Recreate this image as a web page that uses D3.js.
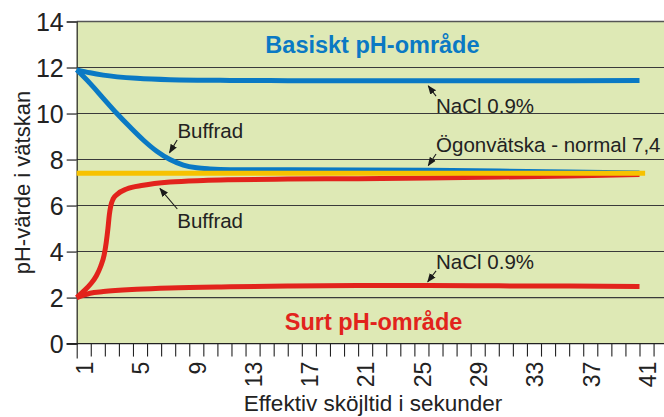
<!DOCTYPE html>
<html>
<head>
<meta charset="utf-8">
<script src="https://cdn.jsdelivr.net/npm/d3@7/dist/d3.min.js"></script>
<style>
  html, body { margin: 0; padding: 0; background: #ffffff; }
  svg { display: block; font-family: "Liberation Sans", Arial, sans-serif; }
</style>
</head>
<body>
<svg id="chart" width="664" height="417"></svg>
<script>
// ---- data (seconds, pH) ----
const blueNaCl = [[1,11.9],[1.95,11.77],[2.89,11.67],[5.26,11.53],[7.63,11.47],[11.9,11.44],[16,11.43],[21,11.42],[26,11.42],[31,11.42],[36,11.43],[41,11.44]];
const blueBuffrad = [[1,11.9],[1.95,11.31],[2.89,10.66],[3.84,10.01],[4.79,9.41],[5.73,8.85],[6.69,8.36],[7.63,8.0],[8.58,7.76],[9.53,7.64],[10.47,7.59],[11.9,7.56],[16,7.56],[21,7.55],[26,7.53],[31,7.5],[36,7.46],[41,7.42]];
const redBuffrad = [[1,2.0],[1.5,2.28],[2,2.6],[2.4,2.95],[2.7,3.35],[2.95,3.85],[3.1,4.4],[3.22,5.0],[3.32,5.6],[3.42,5.98],[3.6,6.3],[3.9,6.5],[4.55,6.72],[5.73,6.88],[7.63,7.02],[10,7.09],[11.9,7.12],[16,7.15],[21,7.17],[26,7.2],[31,7.24],[36,7.29],[41,7.35]];
const redNaCl = [[1,2.0],[1.95,2.19],[2.89,2.26],[5.26,2.36],[7.63,2.42],[11.9,2.47],[16,2.5],[21,2.52],[26,2.52],[31,2.51],[36,2.5],[41,2.48]];
const eyeFluid = [[1,7.4],[41.4,7.4]];

const xTicks = d3.range(1, 43);
const xTickLabels = [1,5,9,13,17,21,25,29,33,37,41];
const yTickValues = [0,2,4,6,8,10,12,14];
const yGridValues = [2,4,6,8,10,12,14];

const xTitle = "Effektiv sköjltid i sekunder";
const yTitle = "pH-värde i vätskan";

// annotations in data coordinates: text position, arrow start, arrow tip
const notes = [
  {text: "Buffrad", tx: 8.16, ty: 8.95, ax1: 8.14, ay1: 8.85, ax2: 7.6, ay2: 8.3},
  {text: "NaCl 0.9%", tx: 26.54, ty: 10.04, ax1: 26.54, ay1: 10.76, ax2: 25.99, ay2: 11.2},
  {text: "Ögonvätska - normal 7,4", tx: 26.54, ty: 8.34, ax1: 26.54, ay1: 8.24, ax2: 25.99, ay2: 7.74},
  {text: "Buffrad", tx: 8.15, ty: 5.04, ax1: 8.15, ay1: 5.85, ax2: 6.92, ay2: 6.74},
  {text: "NaCl 0.9%", tx: 26.54, ty: 3.23, ax1: 26.54, ay1: 3.16, ax2: 25.95, ay2: 2.69}
];
const regions = [
  {text: "Basiskt pH-område", x: 22.02, y: 12.62, color: "#0a79c4"},
  {text: "Surt pH-område", x: 22.1, y: 0.59, color: "#e2231c"}
];

// ---- chart ----
const svg = d3.select("#chart");
const x = d3.scaleLinear().domain([1, 43]).range([76.7, 76.7 + 42 * 14.07]);
const y = d3.scaleLinear().domain([0, 14]).range([343.6, 21.5]);

const plotRight = 664;

// background
svg.append("rect")
  .attr("x", x(1)).attr("y", y(14))
  .attr("width", plotRight - x(1)).attr("height", y(0) - y(14))
  .attr("fill", "#dee9b5");

// gridlines
svg.append("g").selectAll("line").data(yGridValues).join("line")
  .attr("x1", x(1)).attr("x2", plotRight)
  .attr("y1", d => y(d)).attr("y2", d => y(d))
  .attr("stroke", d => d === 14 ? "#555" : "#3a3a3a")
  .attr("stroke-width", d => d === 14 ? 1.5 : 1.1);

// y axis
const yAxis = d3.axisLeft(y).tickValues(yTickValues).tickSize(10).tickPadding(3).tickFormat(d3.format("d"));
const gy = svg.append("g").attr("transform", `translate(${x(1)},0)`).call(yAxis);
gy.select(".domain").attr("stroke", "#222").attr("stroke-width", 1.2);
gy.selectAll(".tick line").attr("stroke", "#222").attr("stroke-width", 1.2);
gy.selectAll(".tick text").attr("font-size", 25).attr("fill", "#222")
  .attr("font-family", "Liberation Sans, Arial, sans-serif").attr("dy", "0.36em");

// x axis
const xAxis = d3.axisBottom(x).tickValues(xTicks).tickSize(13).tickFormat("");
const gx = svg.append("g").attr("transform", `translate(0,${y(0)})`).call(xAxis);
gx.select(".domain").remove();
gx.append("line").attr("x1", x(1) - 10).attr("x2", plotRight)
  .attr("stroke", "#222").attr("stroke-width", 1.2);
gx.selectAll(".tick line").attr("stroke", "#222").attr("stroke-width", 1.1);
gx.selectAll(".tick").filter(d => d === 1).select("line").attr("y2", 15);

// x tick labels (rotated)
svg.append("g").selectAll("text").data(xTickLabels).join("text")
  .attr("transform", d => `translate(${x(d)},${y(0) + 18}) rotate(-90)`)
  .attr("y", 16.3)
  .attr("text-anchor", "end")
  .attr("font-size", 23)
  .attr("fill", "#222")
  .text(d => d);

// axis titles
svg.append("text")
  .attr("x", 373).attr("y", 411)
  .attr("text-anchor", "middle").attr("font-size", 22.5).attr("fill", "#222")
  .text(xTitle);
svg.append("text")
  .attr("transform", `translate(30,${(y(0) + y(14)) / 2}) rotate(-90)`)
  .attr("text-anchor", "middle").attr("font-size", 22).attr("fill", "#222")
  .text(yTitle);

// lines
const line = d3.line().x(d => x(d[0])).y(d => y(d[1])).curve(d3.curveMonotoneX);
const series = [
  {data: blueNaCl, color: "#0a79c4"},
  {data: blueBuffrad, color: "#0a79c4"},
  {data: redNaCl, color: "#e2231c"},
  {data: redBuffrad, color: "#e2231c"},
  {data: eyeFluid, color: "#f7c200"}
];
svg.append("g").selectAll("path").data(series).join("path")
  .attr("d", d => line(d.data))
  .attr("fill", "none")
  .attr("stroke", d => d.color)
  .attr("stroke-width", 5)
  .attr("stroke-linejoin", "round");

// arrow marker
svg.append("defs").append("marker")
  .attr("id", "arrow")
  .attr("markerUnits", "userSpaceOnUse")
  .attr("viewBox", "0 0 10 10")
  .attr("refX", 9).attr("refY", 5)
  .attr("markerWidth", 9).attr("markerHeight", 9)
  .attr("orient", "auto")
  .append("path").attr("d", "M0,1 L10,5 L0,9 Z").attr("fill", "#1a1a1a");

// annotations
const ng = svg.append("g");
ng.selectAll("line").data(notes).join("line")
  .attr("x1", d => x(d.ax1)).attr("y1", d => y(d.ay1))
  .attr("x2", d => x(d.ax2)).attr("y2", d => y(d.ay2))
  .attr("stroke", "#1a1a1a").attr("stroke-width", 1.1)
  .attr("marker-end", "url(#arrow)");
ng.selectAll("text").data(notes).join("text")
  .attr("x", d => x(d.tx)).attr("y", d => y(d.ty))
  .attr("font-size", 20.5).attr("fill", "#222")
  .text(d => d.text);

svg.append("g").selectAll("text").data(regions).join("text")
  .attr("x", d => x(d.x)).attr("y", d => y(d.y))
  .attr("text-anchor", "middle")
  .attr("font-size", 23.5).attr("font-weight", "bold")
  .attr("fill", d => d.color)
  .text(d => d.text);
</script>
</body>
</html>
